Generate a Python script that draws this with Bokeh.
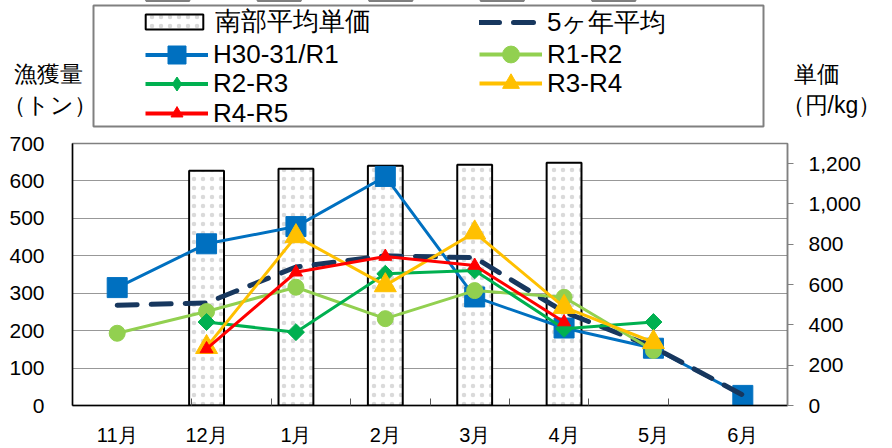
from bokeh.plotting import figure
from bokeh.layouts import column
from bokeh.models import (Range1d, FactorRange, CategoricalAxis, LinearAxis, FixedTicker,
                          NumeralTickFormatter, Legend, LegendItem, Label, BoxAnnotation)
from bokeh.embed import file_html
from bokeh.resources import INLINE
import math

# ---------------- data ----------------
months = ["11月", "12月", "1月", "2月", "3月", "4月", "5月", "6月"]
price_months = ["12月", "1月", "2月", "3月", "4月"]
price = [1165, 1175, 1190, 1195, 1205]           # 南部平均単価 (円/kg, right axis)
avg5 = [268, 274, 370, 400, 395, 250, 156, 28]   # 5ヶ年平均
h30 = [315, 432, 478, 612, 290, 207, 153, 27]    # H30-31/R1
r1r2 = [193, 251, 316, 232, 307, 289, 147, None]
r2r3 = [None, 223, 196, 352, 361, 205, 223, None]
r3r4 = [None, 156, 452, 321, 462, 263, 169, None]
r4r5 = [None, 151, 356, 398, 374, 223, None, None]
left_ticks = [0, 100, 200, 300, 400, 500, 600, 700]
right_ticks = [0, 200, 400, 600, 800, 1000, 1200]

FONT = "Liberation Sans"
BLUE, NAVY, LGREEN, GREEN, YELLOW, RED = "#0070C0", "#17375E", "#92D050", "#00B050", "#FFC000", "#FF0000"
BAR_STYLE = dict(fill_color="white", line_color="black", line_width=2,
                 hatch_pattern="dot", hatch_scale=9, hatch_color="#dadada", hatch_weight=1)

TOP_H = 129


def pts(vals):
    xs = [m for m, v in zip(months, vals) if v is not None]
    ys = [v for v in vals if v is not None]
    return xs, ys


def no_align(fig):
    try:
        fig.frame_align = False
    except Exception:
        pass


# ================= chart =================
p = figure(width=892, height=448 - TOP_H, x_range=FactorRange(factors=months),
           y_range=Range1d(0, 700), x_axis_location=None,
           output_backend="svg", toolbar_location=None,
           min_border_left=72, min_border_right=105, min_border_top=143 - TOP_H,
           min_border_bottom=43)
no_align(p)
p.background_fill_color = "white"
p.border_fill_color = "white"
p.outline_line_color = "#808080"
p.outline_line_width = 1.5

p.yaxis.ticker = FixedTicker(ticks=left_ticks)
p.yaxis.major_tick_out = 0
p.yaxis.major_tick_in = 0
p.yaxis.minor_tick_line_color = None
p.yaxis.axis_line_color = "black"
p.yaxis.axis_line_width = 1.5
p.yaxis.major_label_standoff = 28
p.yaxis.major_label_text_font = FONT
p.yaxis.major_label_text_font_size = "21px"
p.yaxis.major_label_text_color = "black"

p.ygrid.ticker = FixedTicker(ticks=left_ticks[1:-1])
p.ygrid.grid_line_color = "#303030"
p.ygrid.grid_line_dash = "1 1"
p.ygrid.grid_line_width = 1
p.xgrid.visible = False

p.extra_y_ranges = {"price": Range1d(0, 1300)}
raxis = LinearAxis(y_range_name="price", ticker=FixedTicker(ticks=right_ticks),
                   formatter=NumeralTickFormatter(format="0,0"),
                   major_tick_out=6, major_tick_in=0, minor_tick_line_color=None,
                   major_tick_line_color="#808080", axis_line_color="#808080",
                   axis_line_width=1.5, major_label_standoff=15,
                   major_label_text_font=FONT, major_label_text_font_size="21px",
                   major_label_text_color="black")
p.add_layout(raxis, "right")

# tick marks on the borders between months (factor range offset by half a month)
bounds = [" " * (i + 1) for i in range(len(months) - 1)]
p.extra_x_ranges = {"bounds": FactorRange(factors=bounds, range_padding=1.0,
                                          range_padding_units="absolute")}
tick_axis = CategoricalAxis(x_range_name="bounds",
                            major_tick_in=7, major_tick_out=0, minor_tick_line_color=None,
                            major_tick_line_color="#555555", axis_line_color="black",
                            axis_line_width=1.5, major_label_text_font_size="1px",
                            major_label_standoff=0, major_label_text_color=None)
p.add_layout(tick_axis, "below")
cat_axis = CategoricalAxis(axis_line_color=None, major_tick_line_color=None,
                           major_tick_in=0, major_tick_out=0, minor_tick_line_color=None,
                           major_label_standoff=18, major_label_text_font=FONT,
                           major_label_text_font_size="20px", major_label_text_color="black")
p.add_layout(cat_axis, "below")

p.vbar(x=price_months, top=price, width=0.39, y_range_name="price", **BAR_STYLE)

x, y = pts(h30)
p.line(x, y, line_color=BLUE, line_width=3, line_join="round")
p.scatter(x, y, marker="square", size=20, fill_color=BLUE, line_color=BLUE)

x, y = pts(avg5)
p.line(x, y, line_color=NAVY, line_width=5, line_dash="20 14", line_cap="round")

x, y = pts(r1r2)
p.line(x, y, line_color=LGREEN, line_width=3, line_join="round")
p.scatter(x, y, marker="circle", size=16, fill_color=LGREEN, line_color=LGREEN)

x, y = pts(r2r3)
p.line(x, y, line_color=GREEN, line_width=3, line_join="round")
p.scatter(x, y, marker="square", angle=math.pi / 4, size=12, fill_color=GREEN, line_color=GREEN)

x, y = pts(r3r4)
p.line(x, y, line_color=YELLOW, line_width=3, line_join="round")
p.scatter(x, y, marker="triangle", size=22, fill_color=YELLOW, line_color=YELLOW)

x, y = pts(r4r5)
p.line(x, y, line_color=RED, line_width=3, line_join="round")
p.scatter(x, y, marker="triangle", size=13, fill_color=RED, line_color=RED)

# ================= header: legend + axis titles =================
# same series, drawn into a y-window that shows none of them: they only feed the legend
top = figure(width=892, height=TOP_H, x_range=FactorRange(factors=months), y_range=Range1d(-2, -1),
             x_axis_location=None, y_axis_location=None, output_backend="svg",
             toolbar_location=None, min_border=0)
no_align(top)
top.outline_line_color = None
top.grid.visible = False
top.background_fill_color = "white"
top.border_fill_color = "white"

dy = TOP_H - 138  # header layout below was measured for a 138px tall header

box = BoxAnnotation(left=93, right=763, top=133 + dy, bottom=12 + dy,
                    left_units="screen", right_units="screen",
                    top_units="screen", bottom_units="screen",
                    fill_color="white", fill_alpha=1.0,
                    line_color="#808080", line_width=2, line_alpha=1.0)
top.add_layout(box)

g_bar = top.vbar(x=price_months, top=price, width=0.39, **BAR_STYLE)
x, y = pts(avg5)
g_avg = top.line(x, y, line_color=NAVY, line_width=5, line_dash="20 14", line_cap="round")
x, y = pts(h30)
g_h30 = [top.line(x, y, line_color=BLUE, line_width=4),
         top.scatter(x, y, marker="square", fill_color=BLUE, line_color=BLUE)]
x, y = pts(r1r2)
g_r1 = [top.line(x, y, line_color=LGREEN, line_width=4),
        top.scatter(x, y, marker="circle", fill_color=LGREEN, line_color=LGREEN)]
x, y = pts(r2r3)
g_r2 = [top.line(x, y, line_color=GREEN, line_width=4),
        top.scatter(x, y, marker="diamond", fill_color=GREEN, line_color=GREEN)]
x, y = pts(r3r4)
g_r3 = [top.line(x, y, line_color=YELLOW, line_width=4),
        top.scatter(x, y, marker="triangle", fill_color=YELLOW, line_color=YELLOW)]
x, y = pts(r4r5)
g_r4 = [top.line(x, y, line_color=RED, line_width=4),
        top.scatter(x, y, marker="triangle", fill_color=RED, line_color=RED)]


def add_legend(label, renderers, vx, vy, gw, gh):
    lg = Legend(items=[LegendItem(label=label, renderers=renderers)],
                location=(vx, vy + dy), padding=0, margin=0, spacing=0,
                border_line_color=None, background_fill_alpha=0,
                glyph_width=gw, glyph_height=gh, label_standoff=5,
                label_height=10, label_text_font=FONT, label_text_font_size="26px",
                label_text_color="black")
    top.add_layout(lg)


add_legend("南部平均単価", [g_bar], 138, 99, 72, 19)
add_legend("5ヶ年平均", [g_avg], 479, 98.5, 63, 30)
add_legend("H30-31/R1", g_h30, 145, 61.5, 63, 45)
add_legend("R1-R2", g_r1, 479, 63, 63, 42)
add_legend("R2-R3", g_r2, 145, 37.5, 63, 35)
add_legend("R3-R4", g_r3, 479, 34, 63, 42)
add_legend("R4-R5", g_r4, 145, 9.5, 63, 30)

for txt, xx, yy, fs in [("漁獲量", 13, 65, "23px"), ("（トン）", 2, 34, "23px"),
                        ("単価", 793, 65, "23px"), ("（円/kg）", 781, 34, "23px")]:
    top.add_layout(Label(x=xx, y=yy + dy, x_units="screen", y_units="screen", text=txt,
                         text_font=FONT, text_font_size=fs, text_baseline="middle",
                         text_align="left", text_color="black"))

layout = column(top, p, spacing=0)
open("out.html", "w").write(file_html(layout, INLINE))
